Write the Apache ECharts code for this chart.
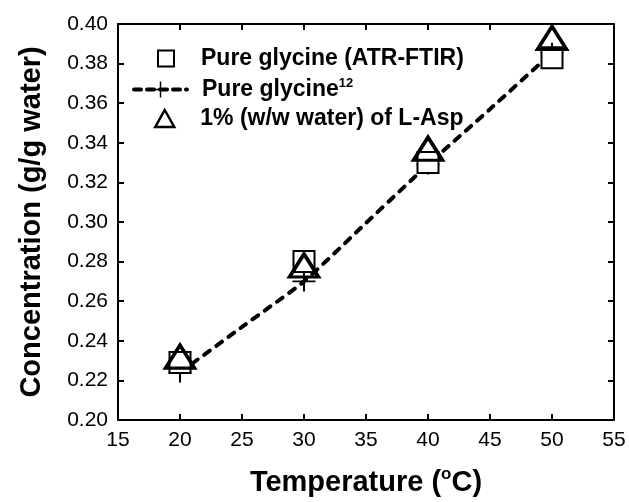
<!DOCTYPE html>
<html><head><meta charset="utf-8">
<script src="https://cdn.jsdelivr.net/npm/echarts@6/dist/echarts.min.js"></script>
<style>html,body{margin:0;padding:0;background:#fff}#c{width:629px;height:502px}</style>
</head><body><div id="c"></div>
<script>
var xTicks = [15, 20, 25, 30, 35, 40, 45, 50, 55];
var yTicks = [0.20, 0.22, 0.24, 0.26, 0.28, 0.30, 0.32, 0.34, 0.36, 0.38, 0.40];
var temps = [20, 30, 40, 50];
var atrFtir = [0.229, 0.280, 0.330, 0.383];
var lAsp = [0.232, 0.278, 0.337, 0.393];
var litTemps = [20, 25, 30, 35, 40, 45, 50];
var litValues = [0.224, 0.247, 0.270, 0.2995, 0.329, 0.357, 0.3855];
var seriesNames = ['Pure glycine (ATR-FTIR)', 'Pure glycine12', '1% (w/w water) of L-Asp'];

var plus = 'path://M-0.09,-1H0.09V-0.09H1V0.09H0.09V1H-0.09V0.09H-1V-0.09H-0.09Z';
var font = 'Liberation Sans, Arial, sans-serif';
var legendText = {fontFamily: font, fontWeight: 'bold', fontSize: 23, color: '#000',
  rich: {sup: {fontFamily: font, fontWeight: 'bold', fontSize: 13, padding: [0, 0, 12, 0], color: '#000'}}};

function legendAt(name, left, top, w, h, pad, extra) {
  return Object.assign({
    orient: 'vertical', left: left, top: top, itemWidth: w, itemHeight: h,
    data: [name], selectedMode: false,
    formatter: function (n) { return n === 'Pure glycine12' ? 'Pure glycine{sup|12}' : n; },
    textStyle: Object.assign({padding: [0, 0, 0, pad]}, legendText)
  }, extra || {});
}

var chart = echarts.init(document.getElementById('c'));
var axisCommon = {
  axisLine: {show: true, lineStyle: {color: '#000', width: 2}},
  axisTick: {show: true, inside: true, length: 6, lineStyle: {color: '#000', width: 2}},
  splitLine: {show: false}
};
chart.setOption({
  animation: false,
  grid: {left: 118, right: 15, top: 24, bottom: 77},
  legend: [
    legendAt(seriesNames[0], 152, 42, 16, 16, 22, {itemStyle: {borderWidth: 2, borderColor: '#000', color: '#fff', opacity: 1}}),
    legendAt(seriesNames[1], 127, 72, 53, 20, 10, {lineStyle: {width: 4, type: [7, 6], cap: 'round', color: '#000', opacity: 1}}),
    legendAt(seriesNames[2], 149, 102, 19, 17, 21, {itemStyle: {borderWidth: 2.5, borderColor: '#000', color: '#fff', opacity: 1}})
  ],
  xAxis: [
    Object.assign({type: 'value', min: 15, max: 55, interval: 5, position: 'bottom',
      name: 'Temperature ({sup|o}C)', nameLocation: 'middle', nameGap: 46,
      nameTextStyle: {fontFamily: font, fontWeight: 'bold', fontSize: 29, color: '#000',
        rich: {sup: {fontFamily: font, fontWeight: 'bold', fontSize: 17, padding: [0, 0, 16, 0], color: '#000'}}},
      axisLabel: {fontFamily: font, fontSize: 21, color: '#000', margin: 10}}, axisCommon),
    Object.assign({type: 'value', min: 15, max: 55, interval: 5, position: 'top', axisLabel: {show: false}}, axisCommon)
  ],
  yAxis: [
    Object.assign({type: 'value', min: 0.2, max: 0.4, interval: 0.02, position: 'left',
      name: 'Concentration (g/g water)', nameLocation: 'middle', nameGap: 72,
      nameTextStyle: {fontFamily: font, fontWeight: 'bold', fontSize: 29, color: '#000'},
      axisLabel: {fontFamily: font, fontSize: 21, color: '#000', margin: 10,
        formatter: function (v) { return v.toFixed(2); }}}, axisCommon),
    Object.assign({type: 'value', min: 0.2, max: 0.4, interval: 0.02, position: 'right', axisLabel: {show: false}}, axisCommon)
  ],
  series: [
    {
      name: seriesNames[0], type: 'scatter', symbol: 'rect', symbolSize: 21,
      itemStyle: {color: '#fff', borderColor: '#000', borderWidth: 2, opacity: 1},
      data: temps.map(function (t, i) { return [t, atrFtir[i]]; }), z: 3
    },
    {
      name: seriesNames[1], type: 'line', symbol: plus, symbolSize: [23, 20], showAllSymbol: true,
      smooth: 0.2,
      itemStyle: {color: '#000', borderWidth: 0, opacity: 1},
      lineStyle: {color: '#000', width: 4, type: [7, 8], cap: 'round'},
      data: litTemps.map(function (t, i) {
        var d = {value: [t, litValues[i]]};
        if (temps.indexOf(t) < 0) d.symbol = 'none';
        return d;
      }), z: 2
    },
    {
      name: seriesNames[2], type: 'scatter', symbol: 'triangle', symbolSize: [29, 23],
      itemStyle: {color: 'rgba(255,255,255,0)', borderColor: '#000', borderWidth: 3.5, opacity: 1},
      data: temps.map(function (t, i) { return [t, lAsp[i]]; }), z: 4
    }
  ]
});
</script></body></html>
